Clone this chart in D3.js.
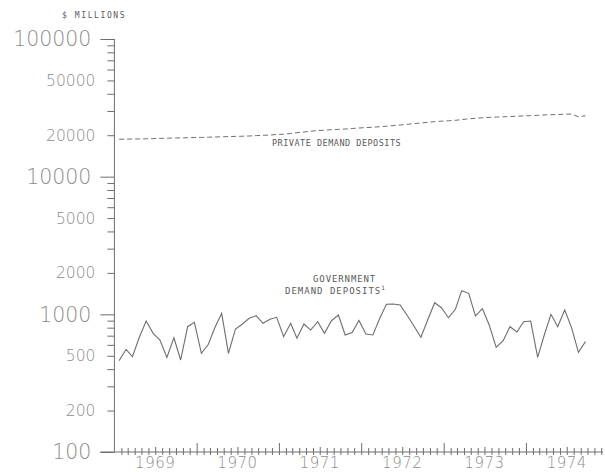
<!DOCTYPE html>
<html>
<head>
<meta charset="utf-8">
<script src="https://cdn.jsdelivr.net/npm/d3@7"></script>
<style>
  html, body { margin: 0; padding: 0; background: #fff; }
  svg { display: block; }
</style>
</head>
<body>
<svg id="chart" width="605" height="472"></svg>
<script>
// ---------------- data ----------------
const years = [1969, 1970, 1971, 1972, 1973, 1974];
const yearLabels = ["1969", "1970", "1971", "1972", "1973", "1974"];
const yTickLabels = [100, 200, 500, 1000, 2000, 5000, 10000, 20000, 50000, 100000];
const decadeTicks = [100, 1000, 10000, 100000];

// monthly observations, Jan 1969 .. Sep 1974 ($ millions)
const privateDeposits = [
  18710, 18740, 18770, 18800, 18840, 18900, 18960, 19030, 19090, 19120, 19190, 19250,
  19280, 19350, 19410, 19480, 19540, 19610, 19670, 19740, 19870, 19970, 20070, 20240,
  20340, 20580, 20860, 21100, 21390, 21600, 21750, 21930, 22040, 22190, 22380, 22570,
  22720, 22870, 23060, 23250, 23490, 23730, 24010, 24250, 24540, 24830, 25080, 25290,
  25460, 25670, 25970, 26320, 26540, 26770, 26950, 27080, 27220, 27350, 27490, 27630,
  27770, 27910, 28050, 28180, 28320, 28420, 28510, 27220, 27680
];
const governmentDeposits = [
  461, 557, 492, 684, 894, 728, 651, 487, 676, 466, 813, 875,
  521, 606, 796, 1017, 521, 782, 847, 936, 978, 861, 920, 951,
  688, 861, 670, 851, 769, 884, 728, 899, 989, 708, 738, 902,
  720, 708, 925, 1183, 1189, 1169, 989, 823, 681, 910, 1215, 1117,
  945, 1088, 1485, 1421, 973, 1099, 837, 576, 644, 813, 744, 884,
  894, 487, 696, 1000, 813, 1075, 805, 530, 633
];

// ---------------- layout ----------------
const svg = d3.select("#chart");
const x0 = 114.4, x1 = 608.2;
const yTop = 39, yBottom = 452;
const ink = "#6e6e6e";
const labelInk = "#8c8c8c";

const x = d3.scaleTime()
  .domain([new Date(1969, 0, 1), new Date(1975, 0, 1)])
  .range([x0, x1]);
const y = d3.scaleLog()
  .domain([100, 100000])
  .range([yBottom, yTop]);

const dates = governmentDeposits.map((_, i) => new Date(1969, i, 22));

// ---------------- y axis ----------------
const yMinor = [];
[100, 1000, 10000].forEach(d => { for (let k = 1; k <= 9; k++) yMinor.push(d * k); });
yMinor.push(100000);

const yAxis = d3.axisLeft(y)
  .tickValues(yMinor)
  .tickSize(6)
  .tickFormat("");
const gy = svg.append("g").attr("transform", `translate(${x0},0)`).call(yAxis);
gy.select(".domain").remove();
gy.selectAll(".tick line")
  .attr("stroke", ink)
  .attr("x2", d => decadeTicks.includes(d) ? -14 : -7);
svg.append("line")
  .attr("x1", x0).attr("x2", x0)
  .attr("y1", y(100000)).attr("y2", y(100))
  .attr("stroke", ink).attr("stroke-width", 1);

svg.append("g").selectAll("text")
  .data(yTickLabels)
  .join("text")
  .attr("x", d => decadeTicks.includes(d) ? x0 - 23 : x0 - 19)
  .attr("y", d => y(d))
  .attr("dy", "0.36em")
  .attr("text-anchor", "end")
  .attr("font-family", "'DejaVu Sans', sans-serif")
  .attr("font-weight", 200)
  .attr("font-size", d => decadeTicks.includes(d) ? 20.5 : 15.5)
  .attr("fill", labelInk)
  .text(d => d);

// ---------------- x axis ----------------
const monthTicks = d3.timeMonth.range(new Date(1969, 1, 1), new Date(1975, 0, 1));
const xAxis = d3.axisBottom(x)
  .tickValues(monthTicks)
  .tickSize(3)
  .tickFormat("");
const gx = svg.append("g").attr("transform", `translate(0,${yBottom})`).call(xAxis);
gx.select(".domain").remove();
gx.selectAll(".tick line")
  .attr("stroke", ink)
  .attr("y1", d => d.getMonth() === 0 ? -9 : (d.getMonth() === 6 ? -5 : -4))
  .attr("y2", 3);
svg.append("line")
  .attr("x1", x0 - 14).attr("x2", 603)
  .attr("y1", yBottom).attr("y2", yBottom)
  .attr("stroke", ink).attr("stroke-width", 1);

svg.append("g").selectAll("text")
  .data(years)
  .join("text")
  .attr("x", d => x(new Date(d, 6, 1)))
  .attr("y", 468)
  .attr("text-anchor", "middle")
  .attr("font-family", "'DejaVu Sans', sans-serif")
  .attr("font-weight", 200)
  .attr("font-size", 15)
  .attr("letter-spacing", 0.5)
  .attr("fill", labelInk)
  .text((d, i) => yearLabels[i]);

// ---------------- series ----------------
const line = d3.line()
  .x((d, i) => x(dates[i]))
  .y(d => y(d));

svg.append("path")
  .datum(privateDeposits)
  .attr("d", line)
  .attr("fill", "none")
  .attr("stroke", ink)
  .attr("stroke-width", 1)
  .attr("stroke-dasharray", "5,3");

svg.append("path")
  .datum(governmentDeposits)
  .attr("d", line)
  .attr("fill", "none")
  .attr("stroke", ink)
  .attr("stroke-width", 1.1)
  .attr("stroke-linejoin", "miter");

// ---------------- annotations ----------------
const mono = "'DejaVu Sans Mono', 'Liberation Mono', monospace";
const small = "#5a5a5a";

svg.append("text")
  .attr("x", 62).attr("y", 17.5)
  .attr("font-family", mono).attr("font-size", 8)
  .attr("letter-spacing", 1.6)
  .attr("fill", small)
  .text("$ MILLIONS");

svg.append("text")
  .attr("x", 272).attr("y", 145.5)
  .attr("font-family", mono).attr("font-size", 8.5)
  .attr("letter-spacing", 0.5)
  .attr("fill", small)
  .text("PRIVATE DEMAND DEPOSITS");

svg.append("text")
  .attr("x", 313).attr("y", 282)
  .attr("font-family", mono).attr("font-size", 9)
  .attr("letter-spacing", 0.9)
  .attr("fill", small)
  .text("GOVERNMENT");

const gov2 = svg.append("text")
  .attr("x", 285).attr("y", 293.5)
  .attr("font-family", mono).attr("font-size", 9)
  .attr("letter-spacing", 1.0)
  .attr("fill", small);
gov2.append("tspan").text("DEMAND DEPOSITS");
gov2.append("tspan")
  .attr("font-size", 6)
  .attr("dy", -4)
  .text("1");
</script>
</body>
</html>
